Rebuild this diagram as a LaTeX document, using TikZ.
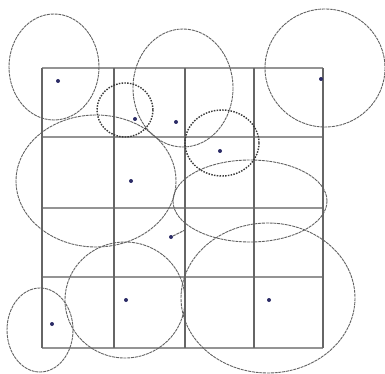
\documentclass[tikz,border=0pt]{standalone}
\usepackage{xcolor}
\usetikzlibrary{positioning}
\definecolor{vln}{gray}{0.4}
\definecolor{hln}{gray}{0.58}
\definecolor{rim}{gray}{0.38}
\definecolor{dtd}{gray}{0.22}
\definecolor{pnt}{HTML}{2B2B66}
\tikzset{
  vgrid/.style={draw=vln, line width=1.2pt},
  hgrid/.style={draw=hln, line width=1.8pt},
  zone/.style={draw=rim, line width=0.9pt, dash pattern=on 3pt off 0.8pt},
  zdot/.style={draw=dtd, line width=1.4pt, dash pattern=on 1.5pt off 1.3pt},
  pt/.style={circle, fill=pnt, inner sep=0pt, minimum size=4pt}}
\begin{document}
\begin{tikzpicture}[x=1pt, y=-1pt]
\useasboundingbox (0,0) rectangle (385,374);
% grid of cells
\foreach \y in {68,137,208,277,348} \draw[hgrid] (42,\y) -- (323,\y);
\foreach \x in {42,114,185,254,323} \draw[vgrid] (\x,68) -- (\x,348);
% zones
\draw[zone] (54,67) ellipse [x radius=45, y radius=53];
\draw[zone] (183,88) ellipse [x radius=50, y radius=59];
\draw[zone] (325,68) ellipse [x radius=60, y radius=59];
\draw[zone] (96,181) ellipse [x radius=80, y radius=66];
\draw[zone] (250,201) ellipse [x radius=77, y radius=41];
\draw[zone] (125,300) ellipse [x radius=60, y radius=58];
\draw[zone] (40,330) ellipse [x radius=33, y radius=42];
\draw[zone] (268,298) ellipse [x radius=87, y radius=75];
\draw[zdot] (125,110) ellipse [x radius=28, y radius=27];
\draw[zdot] (222,143) ellipse [x radius=37, y radius=33];
% points
\node[pt] (pa) at (58,81) {};
\node[pt] (pb) at (176,122) {};
\node[pt] (pc) at (135,119) {};
\node[pt] (pd) at (220,151) {};
\node[pt] (pe) at (321,79) {};
\node[pt] (pf) at (131,181) {};
\node[pt] (pg) at (171,237) {};
\node[pt] (ph) at (126,300) {};
\node[pt] (pi) at (52,324) {};
\node[pt] (pj) at (269,300) {};
\coordinate (gz) at (185,230);
\draw[zone] (pg) -- (gz);
\end{tikzpicture}
\end{document}
